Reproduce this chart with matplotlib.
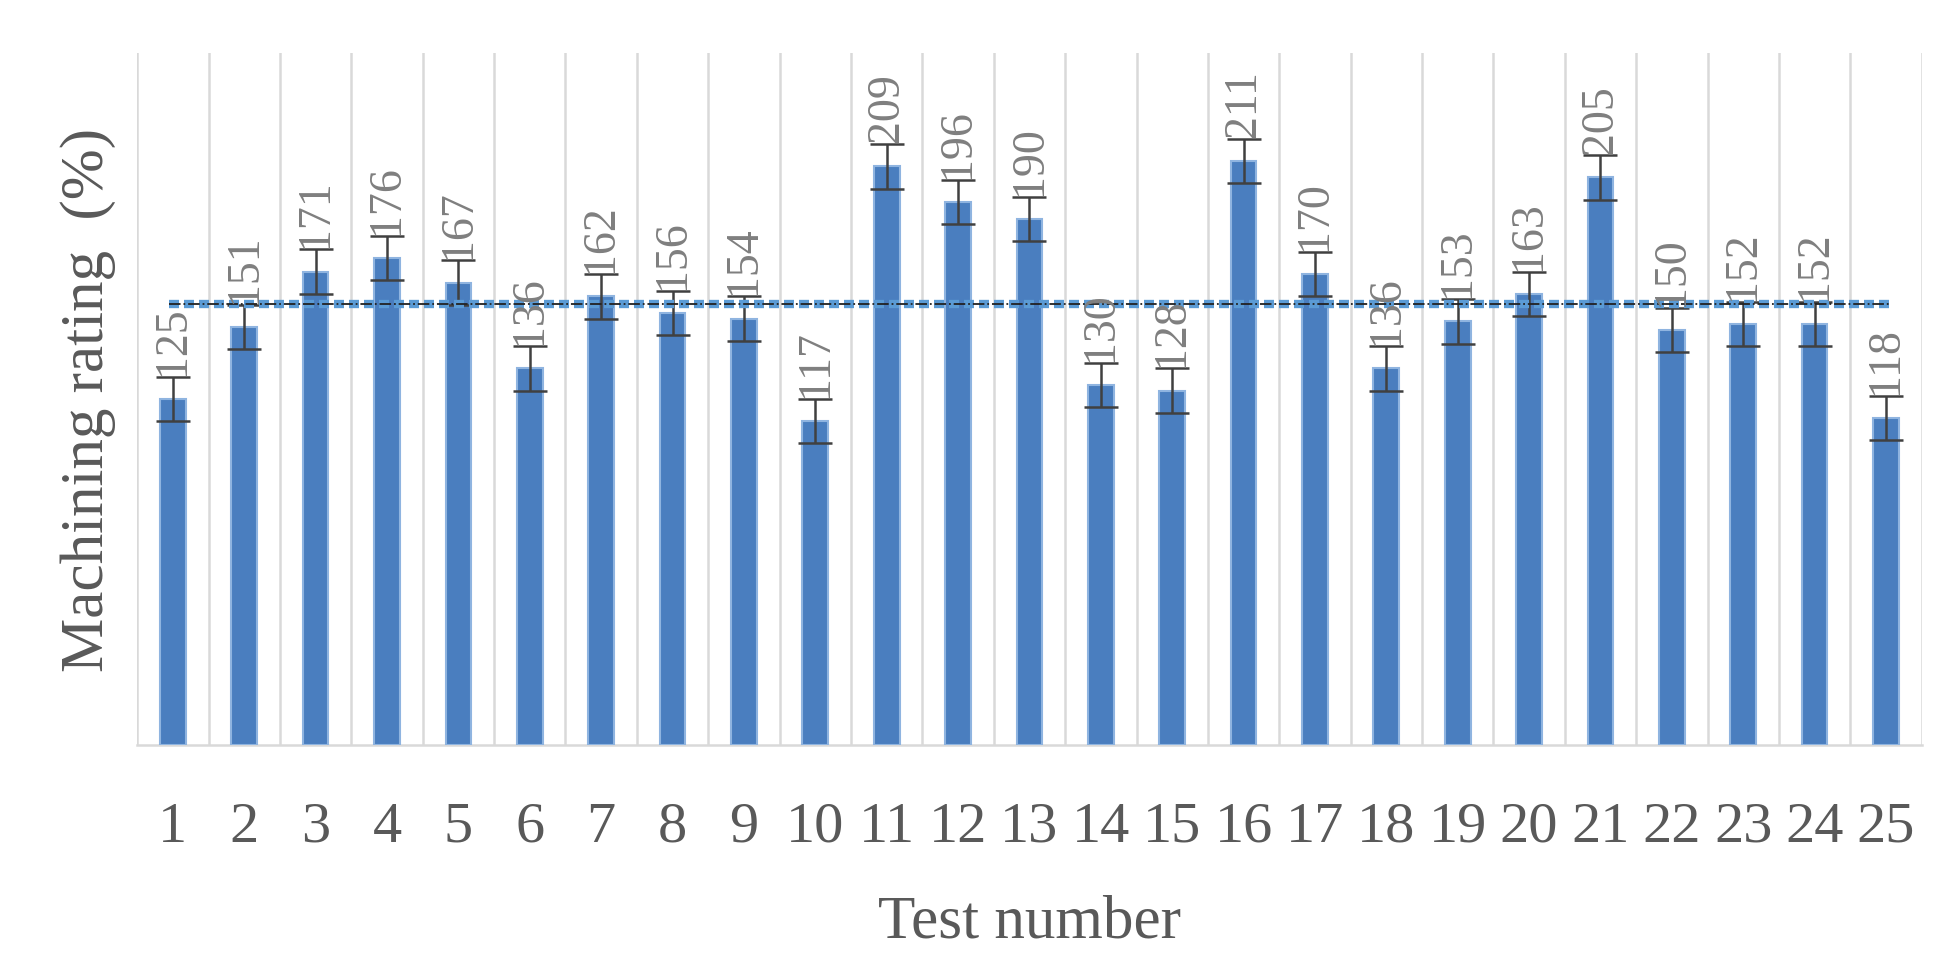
import matplotlib
matplotlib.use("Agg")
import matplotlib.pyplot as plt
import numpy as np

tests = [str(i) for i in range(1, 26)]
values = [125,151,171,176,167,136,162,156,154,117,209,196,190,130,128,211,170,136,153,163,205,150,152,152,118]
errors = [8]*25

fig = plt.figure(figsize=(19.46, 9.79), dpi=100)
ax = fig.add_axes([0.0705, 0.238, 0.917, 0.707])
x = np.arange(len(values))
ax.bar(x, values, width=0.36, color='#4a7ebf', edgecolor='#8fb4e0', linewidth=1.5, zorder=3)
ax.errorbar(x, values, yerr=errors, fmt='none', ecolor='#404040', elinewidth=1.8, capsize=12, capthick=1.8, zorder=4)
mean = np.mean(values)
ax.plot([-0.05, len(values)-0.95], [mean, mean], color='#5b9bd5', lw=6, ls=(0, (1.2, 0.6)), zorder=5)
ax.plot([-0.05, len(values)-0.95], [mean, mean], color='#222222', lw=1.3, ls='-.', zorder=6)
for xi, v, e in zip(x, values, errors):
    ax.text(xi, v+e+1, str(v), rotation=90, ha='center', va='bottom', fontsize=33,
            color='#7f7f7f', family='Liberation Serif', zorder=7)
ax.set_xlim(-0.5, len(values)-0.5)
ax.set_ylim(0, 250)
ax.set_xticks(x)
ax.set_xticklabels(tests, fontsize=42, color='#595959', family='Liberation Serif')
ax.set_yticks([])
for b in np.arange(-0.5, len(values), 1):
    ax.axvline(b, color='#d9d9d9', lw=1.8, zorder=1)
for s in ['top', 'right', 'left']:
    ax.spines[s].set_visible(False)
ax.spines['bottom'].set_color('#d9d9d9')
ax.spines['bottom'].set_linewidth(1.8)
ax.tick_params(axis='x', length=0, pad=40)
ax.set_xlabel('Test number', fontsize=44, color='#595959', family='Liberation Serif', labelpad=30)
ax.set_ylabel('Machining rating  (%)', fontsize=44, color='#595959', family='Liberation Serif', labelpad=15)
fig.savefig('out.png', dpi=100)
